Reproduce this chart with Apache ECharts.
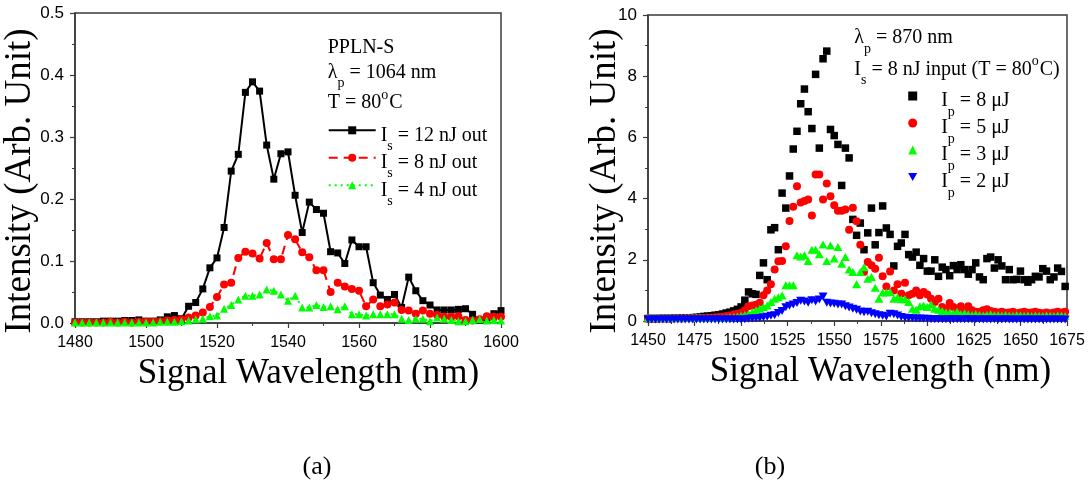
<!DOCTYPE html>
<html><head><meta charset="utf-8">
<script src="https://cdn.jsdelivr.net/npm/echarts@6/dist/echarts.min.js"></script>
<style>html,body{margin:0;padding:0;background:#fff}#c{width:1091px;height:481px}</style>
</head><body><div id="c"></div>
<script>
// ---------- Panel (a) data ----------
const wavelengthA = [
  1480,1482,1484,1486,1488,1490,1492,1494,1496,1498,
  1500,1502,1504,1506,1508,1510,1512,1514,1516,1518,
  1520,1522,1524,1526,1528,1530,1532,1534,1536,1538,
  1540,1542,1544,1546,1548,1550,1552,1554,1556,1558,
  1560,1562,1564,1566,1568,1570,1572,1574,1576,1578,
  1580,1582,1584,1586,1588,1590,1592,1594,1596,1598,
  1600];
const signal12nJ = [
  0.002,0.002,0.002,0.002,0.003,0.003,0.003,0.004,0.004,0.005,
  0.003,0.003,0.005,0.010,0.012,0.007,0.027,0.033,0.055,0.089,
  0.105,0.154,0.245,0.272,0.372,0.389,0.374,0.287,0.232,0.273,
  0.276,0.206,0.146,0.195,0.183,0.177,0.115,0.113,0.096,0.134,
  0.123,0.123,0.065,0.045,0.038,0.046,0.025,0.074,0.052,0.036,
  0.029,0.021,0.021,0.021,0.022,0.023,0.014,0.004,0.008,0.015,
  0.020];
const signal8nJ = [
  0.001,0.001,0.001,0.001,0.001,0.002,0.001,0.002,0.001,0.002,
  0.002,0.002,0.003,0.004,0.005,0.006,0.009,0.012,0.017,0.026,
  0.042,0.062,0.065,0.105,0.115,0.112,0.104,0.129,0.103,0.103,
  0.142,0.135,0.114,0.106,0.085,0.085,0.050,0.065,0.059,0.055,
  0.052,0.027,0.038,0.027,0.030,0.033,0.021,0.020,0.015,0.020,
  0.015,0.013,0.010,0.010,0.011,0.005,0.004,0.006,0.011,0.010,
  0.010];
const signal4nJ = [
  0.001,0.001,0.001,0.001,0.001,0.001,0.001,0.001,0.001,0.001,
  0.001,0.001,0.002,0.002,0.002,0.003,0.004,0.006,0.007,0.011,
  0.012,0.023,0.029,0.038,0.044,0.044,0.046,0.054,0.052,0.046,
  0.036,0.044,0.025,0.025,0.029,0.026,0.027,0.022,0.027,0.014,
  0.014,0.012,0.014,0.014,0.014,0.014,0.007,0.005,0.007,0.007,
  0.003,0.009,0.007,0.005,0.003,0.003,0.005,0.006,0.004,0.005,
  0.004];

// ---------- Panel (b) data ----------
const wavelengthB = [
  1450,1452,1454,1456,1458,1460,1462,1464,1466,1468,
  1470,1472,1474,1476,1478,1480,1482,1484,1486,1488,
  1490,1492,1494,1496,1498,1500,1502,1504,1506,1508,
  1510,1512,1514,1516,1518,1520,1522,1524,1526,1528,
  1530,1532,1534,1536,1538,1540,1542,1544,1546,1548,
  1550,1552,1554,1556,1558,1560,1562,1564,1566,1568,
  1570,1572,1574,1576,1578,1580,1582,1584,1586,1588,
  1590,1592,1594,1596,1598,1600,1602,1604,1606,1608,
  1610,1612,1614,1616,1618,1620,1622,1624,1626,1628,
  1630,1632,1634,1636,1638,1640,1642,1644,1646,1648,
  1650,1652,1654,1656,1658,1660,1662,1664,1666,1668,
  1670,1672,1674];
const pump8uJ = [
  0.08,0.08,0.08,0.08,0.09,0.08,0.09,0.09,0.09,0.10,
  0.10,0.10,0.11,0.12,0.13,0.15,0.16,0.17,0.19,0.20,
  0.23,0.26,0.29,0.33,0.38,0.46,0.68,0.95,0.89,0.87,
  1.49,1.90,1.35,2.98,3.05,2.33,4.18,3.69,4.74,5.62,
  6.20,7.10,7.58,6.84,6.29,8.06,5.65,8.57,8.82,6.26,
  6.06,5.77,4.43,5.65,5.33,3.32,2.80,3.20,2.33,2.88,
  3.69,2.49,2.89,3.76,3.04,2.83,1.80,2.44,2.55,2.83,
  2.17,2.09,2.25,1.82,2.04,1.63,1.63,2.00,1.46,1.76,
  1.68,1.48,1.81,1.68,1.84,1.68,1.53,1.68,1.90,1.44,
  1.35,2.04,2.09,1.73,2.00,1.80,1.35,1.68,1.35,1.36,
  1.63,1.35,1.27,1.35,1.46,1.44,1.71,1.63,1.35,1.44,
  1.73,1.62,1.13];
const pump5uJ = [
  0.08,0.08,0.08,0.08,0.08,0.08,0.08,0.08,0.09,0.08,
  0.09,0.09,0.09,0.10,0.10,0.10,0.11,0.11,0.12,0.13,
  0.14,0.16,0.18,0.21,0.24,0.27,0.35,0.48,0.51,0.53,
  0.60,0.84,1.00,1.20,1.68,1.95,1.96,2.44,3.27,3.73,
  4.40,3.87,3.92,3.97,3.45,4.79,4.79,3.97,4.49,4.08,
  3.78,3.60,3.60,3.64,2.98,3.70,3.26,2.49,1.60,1.93,
  1.82,1.71,2.07,1.46,1.13,1.62,1.00,1.20,0.89,1.25,
  0.84,0.89,1.00,0.84,0.95,0.87,0.73,0.62,0.73,0.46,
  0.40,0.59,0.46,0.40,0.48,0.35,0.48,0.35,0.30,0.30,
  0.35,0.38,0.33,0.30,0.28,0.30,0.27,0.28,0.30,0.25,
  0.28,0.30,0.27,0.28,0.30,0.27,0.25,0.28,0.25,0.28,
  0.30,0.28,0.30];
const pump3uJ = [
  0.11,0.11,0.11,0.11,0.11,0.11,0.11,0.11,0.11,0.11,
  0.11,0.11,0.11,0.11,0.11,0.10,0.10,0.10,0.10,0.10,
  0.10,0.11,0.12,0.13,0.15,0.17,0.20,0.24,0.29,0.35,
  0.40,0.46,0.51,0.62,0.73,0.78,0.83,1.17,1.17,1.17,
  2.15,2.11,2.15,1.96,2.33,2.33,2.18,2.50,1.96,2.47,
  2.04,2.42,1.87,2.09,1.68,1.60,1.20,1.60,1.76,1.38,
  1.44,1.09,0.73,0.93,0.93,0.95,0.73,0.78,0.71,0.71,
  0.62,0.40,0.37,0.48,0.51,0.46,0.54,0.40,0.37,0.33,
  0.29,0.27,0.25,0.30,0.22,0.25,0.22,0.20,0.22,0.20,
  0.18,0.20,0.22,0.19,0.20,0.18,0.20,0.18,0.17,0.20,
  0.18,0.17,0.18,0.16,0.18,0.17,0.16,0.18,0.17,0.16,
  0.18,0.17,0.16];
const pump2uJ = [
  0.05,0.05,0.05,0.05,0.05,0.05,0.05,0.05,0.05,0.05,
  0.05,0.05,0.05,0.05,0.05,0.05,0.05,0.05,0.05,0.05,
  0.05,0.05,0.05,0.05,0.05,0.05,0.06,0.07,0.08,0.09,
  0.10,0.12,0.14,0.17,0.19,0.26,0.33,0.45,0.50,0.54,
  0.59,0.66,0.64,0.60,0.68,0.64,0.70,0.80,0.60,0.57,
  0.56,0.54,0.54,0.48,0.44,0.40,0.37,0.31,0.29,0.30,
  0.25,0.22,0.19,0.17,0.15,0.24,0.22,0.18,0.13,0.11,
  0.10,0.09,0.08,0.08,0.07,0.07,0.06,0.06,0.06,0.06,
  0.06,0.06,0.06,0.06,0.06,0.06,0.06,0.06,0.06,0.06,
  0.05,0.06,0.05,0.06,0.05,0.05,0.06,0.05,0.05,0.05,
  0.05,0.05,0.05,0.05,0.05,0.05,0.05,0.05,0.05,0.05,
  0.05,0.05,0.05];

const legendTextA = {'12 nJ':'12 nJ out','8 nJ':'8 nJ out','4 nJ':'4 nJ out'};
const legendTextB = {'8 μJ':'8 μJ','5 μJ':'5 μJ','3 μJ':'3 μJ','2 μJ':'2 μJ'};

const pairs = (xs, ys) => xs.map((x, i) => [x, ys[i]]);

const serif = '"Liberation Serif","Times New Roman",serif';
const sans = '"Liberation Sans",Arial,sans-serif';
const axisColor = '#3a3a3a';

function rich(colorKey) {
  const c = {}; c[colorKey] = '#000';
  return {
    m: Object.assign({fontFamily: serif, fontSize: 20, lineHeight: 22, padding: [6,0,6,0], verticalAlign: 'top'}, c),
    s: Object.assign({fontFamily: serif, fontSize: 14, lineHeight: 14, padding: [20,0,0,0], verticalAlign: 'top'}, c),
    u: Object.assign({fontFamily: serif, fontSize: 14, lineHeight: 14, padding: [1,1,0,0], verticalAlign: 'top'}, c)
  };
}

function xAxisCfg(idx, min, max, interval, padLeft) {
  return {
    gridIndex: idx, type: 'value', min: min, max: max, interval: interval,
    axisLine: {show: true, onZero: false, lineStyle: {color: axisColor, width: 1.5}},
    axisTick: {show: true, length: 5, lineStyle: {color: axisColor, width: 1.2}},
    minorTick: {show: true, splitNumber: 2, length: 3, lineStyle: {color: axisColor, width: 1}},
    splitLine: {show: false},
    axisLabel: {fontFamily: sans, fontSize: 16, color: '#000', margin: 12, formatter: v => String(v)},
    name: 'Signal Wavelength (nm)', nameLocation: 'middle', nameGap: 33, nameMoveOverlap: false,
    nameTextStyle: {fontFamily: serif, fontSize: 35, color: '#000', padding: [0,0,0,padLeft]}
  };
}
function yAxisCfg(idx, min, max, interval, fmt, gap) {
  return {
    gridIndex: idx, type: 'value', min: min, max: max, interval: interval,
    axisLine: {show: true, onZero: false, lineStyle: {color: axisColor, width: 1.5}},
    axisTick: {show: true, length: 5, lineStyle: {color: axisColor, width: 1.2}},
    minorTick: {show: true, splitNumber: 2, length: 3, lineStyle: {color: axisColor, width: 1}},
    splitLine: {show: false},
    axisLabel: {fontFamily: sans, fontSize: 17, color: '#000', margin: 11, formatter: fmt},
    name: 'Intensity (Arb. Unit)', nameLocation: 'middle', nameGap: gap, nameMoveOverlap: false,
    nameTextStyle: {fontFamily: serif, fontSize: 37, color: '#000', padding: [0,26,0,0]}
  };
}

const chart = echarts.init(document.getElementById('c'), null, {renderer: 'canvas'});
const option = {
  animation: false,
  backgroundColor: '#fff',
  grid: [
    {left: 75, top: 13, width: 426, height: 310, show: true, borderColor: axisColor, borderWidth: 1.5, backgroundColor: 'transparent'},
    {left: 648, top: 15, width: 419, height: 306, show: true, borderColor: axisColor, borderWidth: 1.5, backgroundColor: 'transparent'}
  ],
  xAxis: [
    xAxisCfg(0, 1480, 1600, 20, 41),
    xAxisCfg(1, 1450, 1675, 25, 46)
  ],
  yAxis: [
    yAxisCfg(0, 0, 0.5, 0.1, v => v.toFixed(1), 36),
    yAxisCfg(1, 0, 10, 2, v => String(v), 24)
  ],
  legend: [
    {
      data: ['12 nJ', '8 nJ', '4 nJ'], orient: 'vertical', left: 327.7, top: 119.3,
      padding: 0, itemGap: -6.5, itemWidth: 47, itemHeight: 10, selectedMode: false,
      formatter: n => '{m|I}{s|s}{m| = ' + legendTextA[n] + '}',
      textStyle: {rich: rich('color')}
    },
    {
      data: ['8 μJ', '5 μJ', '3 μJ', '2 μJ'], orient: 'vertical', left: 908.2, top: 85,
      padding: 0, itemGap: -7, itemWidth: 9, itemHeight: 9, selectedMode: false,
      formatter: n => '{m|I}{s|p}{m| = ' + legendTextB[n] + '}',
      textStyle: {rich: rich('color'), padding: [0,0,0,19]}
    }
  ],
  graphic: [
    {type: 'text', x: 327.7, y: 31.5, style: {text: '{m|PPLN-S}', rich: rich('fill'), verticalAlign: 'top', align: 'left'}},
    {type: 'text', x: 327.7, y: 56.5, style: {text: '{m|λ}{s|p}{m| = 1064 nm}', rich: rich('fill'), verticalAlign: 'top', align: 'left'}},
    {type: 'text', x: 327.7, y: 87, style: {text: '{m|T = 80}{u|o}{m|C}', rich: rich('fill'), verticalAlign: 'top', align: 'left'}},
    {type: 'text', x: 854.3, y: 22, style: {text: '{m|λ}{s|p}{m| = 870 nm}', rich: rich('fill'), verticalAlign: 'top', align: 'left'}},
    {type: 'text', x: 854.3, y: 53.5, style: {text: '{m|I}{s|s}{m| = 8 nJ input (T = 80}{u|o}{m|C)}', rich: rich('fill'), verticalAlign: 'top', align: 'left'}},
    {type: 'text', x: 317, y: 467, style: {text: '(a)', font: '26px ' + serif, fill: '#000', align: 'center', verticalAlign: 'middle'}},
    {type: 'text', x: 770, y: 467, style: {text: '(b)', font: '26px ' + serif, fill: '#000', align: 'center', verticalAlign: 'middle'}}
  ],
  series: [
    {name: '12 nJ', type: 'line', xAxisIndex: 0, yAxisIndex: 0, data: pairs(wavelengthA, signal12nJ),
     symbol: 'rect', symbolSize: 7, color: '#000', lineStyle: {color: '#000', width: 2}, itemStyle: {color: '#000'}},
    {name: '8 nJ', type: 'line', xAxisIndex: 0, yAxisIndex: 0, data: pairs(wavelengthA, signal8nJ),
     symbol: 'circle', symbolSize: 8, color: '#ff0000', lineStyle: {color: '#ff0000', width: 2, type: [9, 6]}, itemStyle: {color: '#ff0000'}},
    {name: '4 nJ', type: 'line', xAxisIndex: 0, yAxisIndex: 0, data: pairs(wavelengthA, signal4nJ),
     symbol: 'triangle', symbolSize: 8, color: '#00ff00', lineStyle: {color: '#00ff00', width: 2, type: [2, 4]}, itemStyle: {color: '#00ff00'}},
    {name: '8 μJ', type: 'scatter', xAxisIndex: 1, yAxisIndex: 1, data: pairs(wavelengthB, pump8uJ),
     symbol: 'rect', symbolSize: 7.5, itemStyle: {color: '#000', opacity: 1}},
    {name: '5 μJ', type: 'scatter', xAxisIndex: 1, yAxisIndex: 1, data: pairs(wavelengthB, pump5uJ),
     symbol: 'circle', symbolSize: 8, itemStyle: {color: '#ff0000', opacity: 1}},
    {name: '3 μJ', type: 'scatter', xAxisIndex: 1, yAxisIndex: 1, data: pairs(wavelengthB, pump3uJ),
     symbol: 'triangle', symbolSize: [9, 8], itemStyle: {color: '#00ff00', opacity: 1}},
    {name: '2 μJ', type: 'scatter', xAxisIndex: 1, yAxisIndex: 1, data: pairs(wavelengthB, pump2uJ),
     symbol: 'path://M0,0L10,0L5,9Z', symbolSize: [9, 8], itemStyle: {color: '#0000ff', opacity: 1}}
  ]
};
chart.setOption(option);
</script>
</body></html>
